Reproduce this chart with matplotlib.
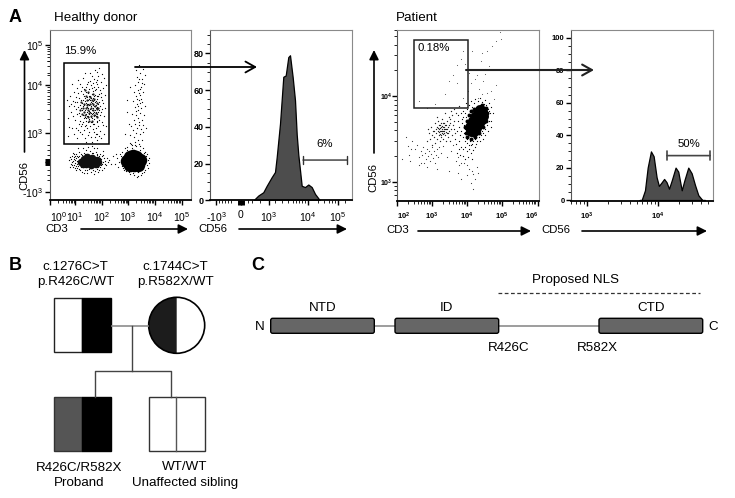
import numpy as np
import matplotlib
matplotlib.use('Agg')
import matplotlib.pyplot as plt
from matplotlib.patches import Rectangle, Wedge, FancyBboxPatch

plt.rcParams['font.family'] = ['Liberation Sans', 'DejaVu Sans']
plt.rcParams['mathtext.default'] = 'regular'

W, H = 735, 498

# cells, in (CD3, CD56) plot channels
donor_gate = [(31,92),(33,85),(35,99),(37,88),(39,95),(41,83),(43,102),(45,90),(47,97),(34,104),(36,79),(38,107),
    (40,91),(42,86),(44,94),(46,84),(48,101),(32,97),(35,90),(37,103),(39,81),(41,98),(43,87),(45,105),(47,92),
    (49,88),(33,94),(36,86),(38,100),(40,96),(42,106),(44,81),(46,99),(34,88),(37,93),(39,89),(41,102),(43,95),
    (45,85),(36,97),(38,84),(40,104),(42,90),(44,100),(46,92),(35,83),(37,96),(39,101),(41,87),(43,92),(45,98),
    (47,86),(33,100),(40,88),(42,97),(38,92),(44,88),(36,92),(41,94),(39,86),(43,99),(37,84),(46,95),(48,93),
    (34,95),(40,100),(42,82),(44,104),(35,102),(38,96),(41,115),(44,121),(47,128),(50,132),(46,111),(52,118),
    (49,124),(43,109),(38,118),(36,113),(33,122),(30,116),(27,112),(24,108),(45,130),(53,126),(48,116),(55,122),
    (42,124),(39,111),(51,110),(35,127),(40,127),(28,120),(22,116),(54,112),(47,120),(44,113),(56,105),(57,115),
    (31,109),(50,106),(26,103),(23,99),(20,104),(19,94),(17,100),(21,88),(18,82),(24,94),(27,98),(29,102),(52,103),
    (54,97),(56,92),(55,84),(52,88),(53,78),(57,74),(50,80),(27,86),(25,80),(29,76),(22,72),(19,73),(24,66),(18,64),
    (28,70),(31,74),(34,70),(37,72),(40,74),(43,76),(46,72),(49,74),(51,69),(55,66),(48,66),(44,68),(41,63),(38,65),
    (35,62),(32,66),(47,60),(42,58),(52,62),(36,58),(27,62),(45,63),(30,79),(28,93),(29,87),(26,91),(51,94),(50,98),
    (53,91),(49,104),(32,76),(36,75),(41,78),(44,76),(47,79),(30,84),(32,90),(34,82),(31,100),(33,106),(30,95),
    (48,84),(50,90),(49,96),(47,104),(45,110),(42,112),(39,104),(36,108),(34,111),(37,116),(40,119),(43,117),
    (36,82),(38,78),(42,78),(44,84),(46,88),(48,78),(33,78),(35,74),(39,68),(43,71),(46,66),(50,64),(30,68),(26,72),
    (23,84),(21,96),(25,98),(28,107),(32,113),(46,118),(49,113),(52,107),(53,100),(51,85),(54,75)]
donor_core = [(36,92),(40,96),(43,90),(39,87),(37,100),(42,100),(41,84),(34,88),(34,96),(38,83),(45,94),(46,87),
    (44,85),(41,92),(37,95),(38,90),(43,96),(40,103),(35,85),(47,91),(36,104),(44,101),(39,79),(33,92),(31,98),
    (32,86),(48,97),(47,83),(43,106),(38,108),(35,110),(42,79),(30,90),(49,92)]
donor_low = [(19,40),(21,36),(22,44),(23,33),(24,41),(25,37),(26,46),(26,30),(27,39),(28,34),(28,43),(29,48),(30,36),
    (30,30),(31,41),(32,45),(32,28),(33,33),(34,47),(35,30),(36,50),(37,27),(38,46),(39,31),(40,49),(41,28),(42,47),
    (43,30),(44,52),(45,29),(46,48),(47,31),(48,46),(49,28),(50,44),(51,33),(52,41),(53,36),(54,45),(55,32),(56,39),
    (57,35),(58,42),(59,38),(20,33),(22,38),(24,46),(25,32),(27,44),(29,31),(20,43),(23,47),(31,33),(33,44),(35,46),
    (37,30),(39,45),(41,32),(43,47),(45,33),(47,45),(49,33),(51,46),(53,30),(55,42),(50,30),(34,27),(44,26),(38,53),
    (42,54),(33,52),(47,52),(28,52),(54,49),(24,35),(26,42),(29,39),(31,37),(27,36),(25,44),(21,41),(23,39),(25,40),
    (22,35),(26,34),(28,38),(29,44),(30,41),(31,46),(24,43),(27,32),(52,35),(54,38),(50,37),(51,42),(53,44),(56,36)]
donor_low_core = [(31,38),(34,41),(36,36),(39,39),(42,42),(44,37),(47,40),(37,43),(41,35),(46,36),(33,36),(49,38)]
donor_t_halo = [(68,42),(70,38),(72,44),(66,36),(74,32),(73,48),(75,36),(76,45),(77,29),(78,50),(80,26),(82,52),(84,25),
    (86,54),(88,24),(90,50),(92,27),(94,47),(96,30),(97,44),(98,35),(99,40),(100,37),(96,48),(94,28),(91,25),(87,23),
    (83,27),(79,28),(75,30),(74,40),(73,34),(99,32),(98,46),(93,52),(78,53),(76,52),(71,46),(67,46),(69,33),(88,28),
    (60,40),(62,36),(64,44),(100,42),(72,38),(85,55),(81,56),(90,54),(77,33)]
donor_t_core = [(84,40),(81,38),(87,38),(83,44),(86,43),(84,35),(80,43),(88,35),(80,35),(78,39),(90,40)]
donor_tail = [(82,55),(85,58),(88,60),(84,63),(80,65),(86,67),(90,66),(83,70),(87,72),(91,71),(81,74),(85,76),(89,78),
    (93,75),(84,80),(88,82),(92,80),(86,85),(90,87),(82,86),(94,85),(88,90),(91,92),(85,93),(78,88),(87,96),(92,98),
    (89,100),(83,99),(95,94),(86,104),(90,105),(93,108),(88,110),(84,108),(91,113),(85,115),(94,116),(88,118),
    (92,121),(87,123),(90,127),(95,125),(93,131),(86,130),(89,135),(80,113),(78,100),(79,76),(76,66),(80,57),(89,56),
    (92,60),(93,68),(97,72),(89,75),(90,97),(86,89),(88,94),(91,101),(89,107),(90,111),(87,101),(92,117),(89,121)]

patient_core = [(74,70),(76,74),(78,78),(80,81),(82,85),(84,88),(85,90),(75,78),(79,73),(82,78),(84,82),(78,84),(81,88),
    (86,85),(73,74),(77,70),(80,76),(83,91)]
patient_mid = [(69,68),(68,74),(70,80),(72,86),(74,90),(77,92),(70,64),(74,62),(78,64),(82,68),(86,74),(89,80),(90,88),
    (89,93),(85,96),(81,94),(72,70),(73,82),(87,79),(76,66)]
patient_halo = [(62,74),(64,70),(65,78),(66,64),(66,84),(67,68),(68,88),(68,60),(69,73),(70,92),(70,58),(71,64),(72,96),
    (72,56),(73,90),(74,62),(75,94),(75,57),(76,60),(77,98),(78,62),(79,94),(80,60),(81,100),(82,64),(83,96),(84,66),
    (85,99),(86,68),(87,97),(88,72),(89,96),(90,76),(91,92),(92,80),(93,88),(90,84),(92,90),(88,66),(86,62),(83,60),
    (79,57),(74,56),(70,62),(67,76),(65,82),(63,66),(61,80),(60,70),(58,62),(57,72),(59,57),(62,60),(64,54),(66,52),
    (68,54),(70,50),(72,52),(74,48),(76,51),(78,54),(66,90),(64,88),(61,86),(69,84),(69,98),(74,100),(78,102),(83,103),
    (88,101),(92,98),(94,94),(96,88),(94,80),(94,74),(91,70),(73,60),(68,72),(71,70),(71,85),(74,83),(87,78),(85,70),
    (89,88),(76,90),(60,48),(63,46),(66,45),(68,42),(71,44),(75,42),(62,52)]
patient_left = [(30,60),(32,68),(33,62),(34,74),(35,56),(36,70),(37,64),(38,78),(38,58),(39,68),(40,74),(40,62),(41,80),
    (42,66),(42,72),(43,60),(43,76),(44,70),(44,64),(45,82),(45,68),(46,74),(46,62),(47,78),(47,70),(48,66),(48,76),
    (49,72),(49,60),(50,80),(50,68),(51,74),(51,64),(52,84),(52,70),(53,78),(53,60),(54,72),(55,66),(55,86),(56,76),
    (57,80),(58,68),(45,72),(46,70),(44,74),(47,68),(43,70),(48,72),(46,78),(44,66),(42,76),(49,76),(50,72),(47,74),
    (41,70),(51,68),(39,72),(52,76),(53,82),(54,90),(57,92),(59,88),(62,95),(37,70),(35,66),(31,72),(48,88),(40,84),
    (43,73),(45,75),(47,72),(45,70),(43,67),(41,73),(49,69),(46,67),(44,78),(42,69)]
patient_low = [(20,56),(14,52),(11,55),(22,44),(24,50),(25,46),(26,54),(27,38),(28,48),(29,42),(30,52),(31,45),(32,50),
    (33,40),(34,47),(35,54),(36,43),(37,50),(38,38),(39,46),(40,52),(41,44),(42,54),(24,38),(22,36),(44,48),(46,55),
    (15,60),(9,64),(5,42),(13,40),(12,46),(18,52),(30,34),(50,44),(54,50),(56,56),(59,40),(61,44),(64,38),(67,38),
    (70,36),(72,32),(75,30),(76,27),(78,22),(80,34),(74,18),(76,12),(81,28),(70,26),(64,22),(61,28),(62,36),(40,32),(52,30)]
patient_high = [(22,100),(30,93),(38,97),(48,107),(52,120),(66,103),(71,110),(74,118),(78,122),(82,112),(86,120),(90,108),
    (94,110),(97,102),(99,116),(66,150),(72,128),(80,126),(88,127),(92,135),(90,150),(85,148),(95,155),(99,160),
    (103,169),(104,162),(75,150),(64,142),(60,136),(56,126),(68,137),(84,140),(88,132),(60,118),(81,103),(85,107)]

# histogram outlines
donor_hist_x = [43.3,48.3,53.3,56.7,61.7,65,66.7,70,73.3,75.7,78.3,80,82.7,85,86.7,88.3,91.7,95,98.3,101.7,105,110]
donor_hist_y = [0,2.7,4.5,8,12.7,15.5,23.6,41.8,67.3,68,78,79,67,54.5,36,25,8,7.3,8.7,7.3,3.6,0]
patient_hist_x = [5500,5890,6560,7160,7960,8690,9570,10300,11300,12200,13200,14300,15600,17700,19300,21600,23500,26700,
    29800,33200,37000,42100,46000]
patient_hist_y = [0,0,6,20,30,27,14,8.7,11,13,11,7,12,20,17.5,6,12,20,16.5,9.3,3,0,0]

# pedigree and protein map
domain_names = ['NTD', 'ID', 'CTD']
domain_start = [270.7, 395, 599]
domain_end = [374.3, 498.7, 702.7]
donor_x_ticks = [0.5, 25.5, 52.5, 78.5, 105.5, 132.5]
donor_x_labels = ['$10^{0}$', '$10^{1}$', '$10^{2}$', '$10^{3}$', '$10^{4}$', '$10^{5}$']
donor_y_ticks = [8, 38, 67, 115, 155]
donor_y_labels = ['-$10^{3}$', '', '$10^{3}$', '$10^{4}$', '$10^{5}$']
hist_x_ticks = [6, 31, 59, 98, 128]
hist_x_labels = ['-$10^{3}$', '0', '$10^{3}$', '$10^{4}$', '$10^{5}$']
patient_x_ticks = [0, 35, 70, 105, 141]
patient_x_labels = ['$10^{2}$', '$10^{3}$', '$10^{4}$', '$10^{5}$', '$10^{6}$']
patient_y_ticks = [19, 105]
patient_y_labels = ['$10^{3}$', '$10^{4}$']


def panel(left, top, right, bottom):
    ax = fig.add_axes([left / W, 1 - bottom / H, (right - left) / W, (bottom - top) / H])
    for side in ['top', 'right']:
        ax.spines[side].set_color('#8a8a8a')
    ax.spines['left'].set_color('#555555')
    ax.spines['bottom'].set_color('black')
    ax.spines['bottom'].set_linewidth(1.3)
    ax.tick_params(which='major', length=3.5, width=1, pad=1)
    ax.tick_params(which='minor', length=2, width=0.6)
    ax.tick_params(axis='x', which='major', pad=3.5)
    return ax


def log_minor(major, decade):
    return [major + decade * np.log10(m) for m in range(2, 10)]


def dots(ax, cells, size=0.8, color='black'):
    xs, ys = zip(*cells)
    pts = ax.scatter(xs, ys, s=size, c=color, marker='o', linewidths=0, zorder=2)
    pts.set_snap(False)


fig = plt.figure(figsize=(W / 100, H / 100), dpi=100)

# A, healthy donor dot plot
ax1 = panel(49.5, 29.5, 191.5, 200)
ax1.set_xlim(0, 142)
ax1.set_ylim(0, 170.5)
dots(ax1, donor_gate)
dots(ax1, donor_core, 2.6, '#222222')
dots(ax1, donor_low)
dots(ax1, donor_low_core, 30, '#111111')
dots(ax1, donor_t_halo)
dots(ax1, donor_t_core, 95)
dots(ax1, donor_tail)
ax1.add_patch(Rectangle((14.5, 55.5), 45, 81, fill=False, ec='black', lw=1.1, zorder=3))
ax1.set_xticks(donor_x_ticks, donor_x_labels, fontsize=7.5)
ax1.set_yticks(donor_y_ticks, donor_y_labels, fontsize=7.5)
ax1.get_xticklabels()[0].set_ha('left')
ax1.set_xticks(sum([log_minor(t, 26.5) for t in donor_x_ticks[:-1]], []), minor=True)
ax1.set_yticks(log_minor(115, 40) + log_minor(67, 48) + [139, 125, 98, 55, 50, 45, 30, 20, 25], minor=True)
ax1.plot([-5, 0], [38, 38], color='black', lw=5, clip_on=False, solid_capstyle='butt')

# A, healthy donor histogram
ax2 = panel(210, 29.5, 351.5, 200.5)
ax2.set_xlim(0, 141.5)
ax2.set_ylim(0, 93)
ax2.fill_between(donor_hist_x, donor_hist_y, color='#4d4d4d', ec='black', lw=0.9, zorder=2)
ax2.set_xticks(hist_x_ticks, hist_x_labels, fontsize=7.5)
ax2.set_yticks([0, 20, 40, 60, 80], ['0', '20', '40', '60', '80'], fontsize=6.5, fontweight='bold')
ax2.set_yticks(np.arange(0, 93, 5), minor=True)
ax2.set_xticks([9, 12, 15, 18, 21, 38, 42, 50, 65, 72, 78, 83, 86, 89, 92, 95, 108, 114, 119, 122, 125, 135], minor=True)
ax2.plot([31, 31], [0, -2.6], color='black', lw=5, clip_on=False, solid_capstyle='butt')
ax2.annotate('', (93, 22), (137, 22), arrowprops=dict(arrowstyle='|-|,widthA=0.3,widthB=0.3', lw=1, color='#333333', shrinkA=0, shrinkB=0))
ax2.text(115, 30.5, '6%', ha='center', va='center', fontsize=8.2)

# A, patient dot plot
ax3 = panel(397, 29.5, 538.5, 201)
ax3.set_xlim(0, 141.5)
ax3.set_ylim(0, 171.5)
dots(ax3, patient_core, 62)
dots(ax3, patient_mid, 8)
dots(ax3, patient_halo)
dots(ax3, patient_left, 0.9, '#222222')
dots(ax3, patient_low, 0.7, '#333333')
dots(ax3, patient_high, 0.6, '#555555')
ax3.add_patch(Rectangle((17, 93), 54, 68, fill=False, ec='#222222', lw=1.1, zorder=3))
ax3.set_xticks(patient_x_ticks, patient_x_labels, fontsize=5.5, fontweight='bold')
ax3.set_yticks(patient_y_ticks, patient_y_labels, fontsize=5, fontweight='bold')
ax3.tick_params(axis='y', which='major', pad=0)
ax3.get_xticklabels()[0].set_ha('left')
ax3.get_xticklabels()[-1].set_ha('right')
ax3.set_xticks(sum([log_minor(t, 35) for t in patient_x_ticks[:-1]], []), minor=True)
ax3.set_yticks(log_minor(105, 86) [:5] + log_minor(19, 86) + [15, 11, 6], minor=True)

# A, patient histogram
ax4 = panel(571, 29.5, 713, 201)
ax4.set_xscale('log')
ax4.set_xlim(10 ** 2.775, 10 ** 4.775)
ax4.set_ylim(-0.6, 105.2)
ax4.fill_between(patient_hist_x, patient_hist_y, color='#4d4d4d', ec='black', lw=0.9, zorder=2)
ax4.set_xticks([1000, 10000], ['$10^{3}$', '$10^{4}$'], fontsize=5.5, fontweight='bold')
ax4.set_yticks([0, 20, 40, 60, 80, 100], ['0', '20', '40', '60', '80', '100'], fontsize=5.5, fontweight='bold')
ax4.set_yticks(np.arange(0, 105, 5), minor=True)
ax4.annotate('', (10 ** 4.126, 27.4), (10 ** 4.735, 27.4), arrowprops=dict(arrowstyle='|-|,widthA=0.3,widthB=0.3', lw=1.2, color='#444444', shrinkA=0, shrinkB=0))
ax4.text(10 ** 4.43, 34.5, '50%', ha='center', va='center', fontsize=8.2)

# everything else sits on a sheet measured in picture pixels
sheet = fig.add_axes([0, 0, 1, 1], zorder=5)
sheet.set_xlim(0, W)
sheet.set_ylim(H, 0)
sheet.axis('off')
sheet.patch.set_alpha(0)


def label(x, y, s, **kw):
    kw.setdefault('fontsize', 9.6)
    kw.setdefault('ha', 'center')
    sheet.text(x, y, s, va='center', **kw)


def arrow(x0, y0, x1, y1, style='-|>', scale=14, lw=1.2, color='black'):
    sheet.annotate('', (x1, y1), (x0, y0), arrowprops=dict(arrowstyle=style, mutation_scale=scale, lw=lw, color=color, shrinkA=0, shrinkB=0))


label(15, 17, 'A', fontsize=13, fontweight='bold')
label(15, 265, 'B', fontsize=13, fontweight='bold')
label(258, 265.5, 'C', fontsize=13, fontweight='bold')
label(54, 18, 'Healthy donor', ha='left')
label(396, 17.5, 'Patient', ha='left')
label(80.5, 51, '15.9%', fontsize=8.2)
label(434, 48, '0.18%', fontsize=8.2)
label(24.5, 175, 'CD56', rotation=90, fontsize=8.2)
label(373, 177, 'CD56', rotation=90, fontsize=8.2)
label(57, 229, 'CD3', fontsize=8.2)
label(213, 229, 'CD56', fontsize=8.2)
label(398, 230, 'CD3', fontsize=8.2)
label(556, 230, 'CD56', fontsize=8.2)
arrow(24.5, 152, 24.5, 50)
arrow(374, 153, 374, 50)
arrow(81, 229, 188, 229)
arrow(239, 229, 347, 229)
arrow(418, 231, 531, 231)
arrow(582, 231, 707, 231)
arrow(135, 67, 257, 67, style='->,head_length=0.5,head_width=0.28', lw=1.3)
arrow(466, 70, 594, 70, style='->,head_length=0.5,head_width=0.28', lw=1.5, color='#222222')

# B, pedigree
label(75.7, 267, 'c.1276C>T')
label(75.7, 282, 'p.R426C/WT')
label(175.7, 267, 'c.1744C>T')
label(175.7, 282, 'p.R582X/WT')
label(78.7, 467.7, 'R426C/R582X')
label(78.7, 482.7, 'Proband')
label(184.7, 466.7, 'WT/WT')
label(185, 482.7, 'Unaffected sibling')
sheet.plot([111.7, 148], [326, 326], color='#8c8c8c', lw=1.2)
sheet.plot([132.3, 132.3], [326, 370.7], color='#444444', lw=1)
sheet.plot([95.3, 95.3, 171.3, 171.3], [396.7, 370.7, 370.7, 396.7], color='#444444', lw=1)
sheet.add_patch(Rectangle((54.3, 298.3), 27.7, 54, fc='white', ec='#222222', lw=1))
sheet.add_patch(Rectangle((82, 298.3), 28.7, 54, fc='black', ec='black', lw=1))
sheet.add_patch(Wedge((176.7, 325.3), 28, 90, 270, fc='#1c1c1c', ec='none'))
sheet.add_patch(plt.Circle((176.7, 325.3), 28, fill=False, ec='black', lw=1.2))
sheet.add_patch(Rectangle((54.3, 396.7), 27.7, 54, fc='#555555', ec='#333333', lw=1))
sheet.add_patch(Rectangle((82, 396.7), 28.7, 54, fc='black', ec='black', lw=1))
sheet.add_patch(Rectangle((148.7, 396.7), 56, 54, fc='white', ec='#333333', lw=1))
sheet.plot([176.3, 176.3], [396.7, 450.7], color='#555555', lw=1)

# C, protein map
label(576, 280, 'Proposed NLS')
sheet.plot([498, 700], [292.7, 292.7], color='#333333', lw=0.9, ls=(0, (3, 2)))
sheet.plot([374, 599], [325.7, 325.7], color='#8c8c8c', lw=1.2, zorder=1)
for name, start, end in zip(domain_names, domain_start, domain_end):
    sheet.add_patch(FancyBboxPatch((start + 1.5, 319.8), end - start - 3, 12, boxstyle='round,pad=1.5,rounding_size=2', fc='#666666', ec='black', lw=1, zorder=2))
    label((start + end) / 2, 307.7, name)
label(260, 327.3, 'N')
label(712.7, 327.3, 'C')
label(509, 348.3, 'R426C')
label(597.7, 348.3, 'R582X')

fig.savefig('out.png', dpi=100)
